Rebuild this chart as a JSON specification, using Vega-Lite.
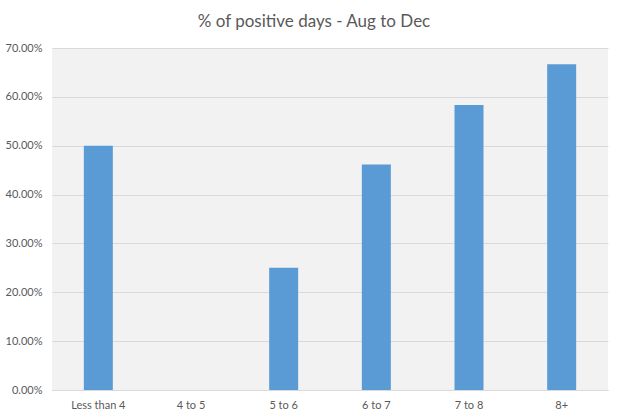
{
  "$schema": "https://vega.github.io/schema/vega-lite/v6.json",
  "autosize": {"type": "none"},
  "width": 556,
  "height": 342,
  "padding": {"left": 52, "top": 48, "right": 10, "bottom": 28},
  "background": "white",
  "title": {
    "text": "% of positive days - Aug to Dec",
    "font": "Lato",
    "fontSize": 17,
    "fontWeight": "normal",
    "color": "#595959",
    "anchor": "middle",
    "dx": -16,
    "offset": 11
  },
  "data": {
    "values": [
      {"bucket": "Less than 4", "pct": 0.5},
      {"bucket": "4 to 5", "pct": 0},
      {"bucket": "5 to 6", "pct": 0.25},
      {"bucket": "6 to 7", "pct": 0.4615},
      {"bucket": "7 to 8", "pct": 0.5833},
      {"bucket": "8+", "pct": 0.6667}
    ]
  },
  "mark": {"type": "bar", "color": "#5B9BD5"},
  "encoding": {
    "x": {
      "field": "bucket",
      "type": "nominal",
      "sort": null,
      "title": null,
      "scale": {"paddingInner": 0.687, "paddingOuter": 0.3435},
      "axis": {
        "labelAngle": 0,
        "labelFont": "Lato",
        "labelFontSize": 11,
        "labelColor": "#595959",
        "labelPadding": 9,
        "ticks": false,
        "domain": true,
        "domainColor": "#D9D9D9",
        "grid": false
      }
    },
    "y": {
      "field": "pct",
      "type": "quantitative",
      "title": null,
      "scale": {"domain": [0, 0.7], "nice": false},
      "axis": {
        "format": ".2%",
        "values": [0, 0.1, 0.2, 0.3, 0.4, 0.5, 0.6, 0.7],
        "labelFont": "Lato",
        "labelFontSize": 11,
        "labelColor": "#595959",
        "labelPadding": 10,
        "ticks": false,
        "domain": false,
        "grid": true,
        "gridColor": "#D9D9D9"
      }
    }
  },
  "config": {
    "view": {"fill": "#F2F2F2", "stroke": null}
  }
}
